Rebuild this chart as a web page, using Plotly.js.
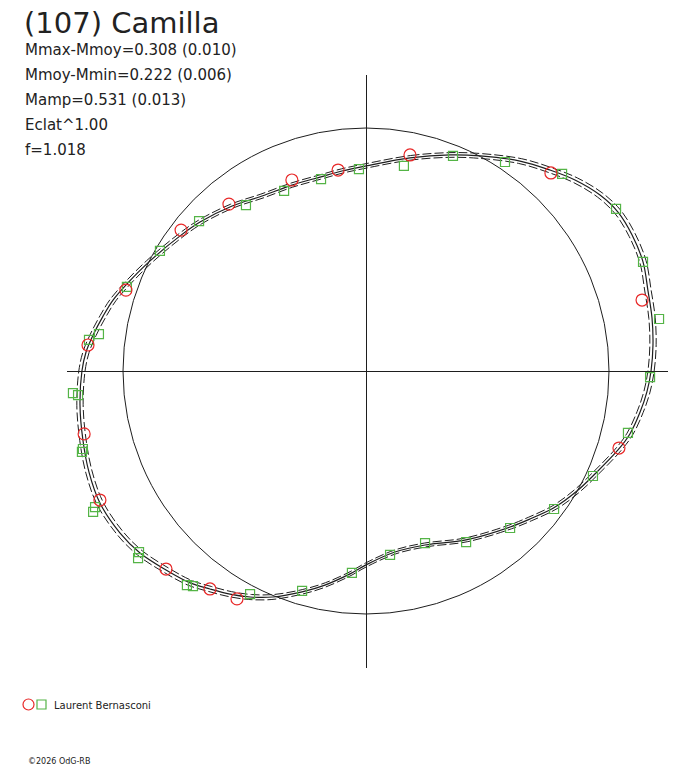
<!DOCTYPE html>
<html>
<head>
<meta charset="utf-8">
<script src="https://cdn.plot.ly/plotly-3.0.1.min.js"></script>
<style>html,body{margin:0;padding:0;background:#fff;}#chart{width:688px;height:768px;}</style>
</head>
<body>
<div id="chart"></div>
<script>
// ---- Data (units: radius of the mean-magnitude reference circle = 1) ----
var asteroidName = "(107) Camilla";
var infoLines = ["Mmax-Mmoy=0.308 (0.010)", "Mmoy-Mmin=0.222 (0.006)", "Mamp=0.531 (0.013)", "Eclat^1.00", "f=1.018"];
var observerName = "Laurent Bernasconi";
var copyrightText = "©2026 OdG-RB";
var meanRadius = 1;
var bandWidth = 0.011;

var curveX = [0, 0.181, 0.346, 0.469, 0.634, 0.757, 0.860, 0.963, 1.037, 1.095, 1.140, 1.160, 1.177, 1.181, 1.173, 1.156, 1.128, 1.086, 1.037, 0.942, 0.868, 0.778, 0.675, 0.593, 0.412, 0.243, 0.119, 0, -0.066, -0.169, -0.263, -0.383, -0.477, -0.560, -0.642, -0.724, -0.823, -0.930, -1.012, -1.095, -1.140, -1.165, -1.177, -1.169, -1.152, -1.123, -1.082, -1.041, -0.984, -0.893, -0.765, -0.683, -0.551, -0.428, -0.305, -0.189, -0.099, 0];
var curveY = [0.844, 0.877, 0.889, 0.885, 0.864, 0.827, 0.786, 0.724, 0.654, 0.560, 0.449, 0.333, 0.218, 0.107, 0, -0.086, -0.169, -0.259, -0.325, -0.424, -0.494, -0.560, -0.609, -0.642, -0.695, -0.716, -0.745, -0.798, -0.835, -0.881, -0.909, -0.930, -0.930, -0.918, -0.897, -0.872, -0.819, -0.749, -0.667, -0.543, -0.416, -0.284, -0.140, 0, 0.078, 0.148, 0.226, 0.292, 0.358, 0.449, 0.556, 0.613, 0.679, 0.720, 0.765, 0.798, 0.823, 0.844];

var redX = [0.181, 0.761, 1.136, 1.041, -0.531, -0.642, -0.823, -1.095, -1.160, -1.144, -0.988, -0.761, -0.564, -0.305, -0.115];
var redY = [0.889, 0.815, 0.292, -0.317, -0.938, -0.897, -0.815, -0.531, -0.259, 0.107, 0.333, 0.580, 0.687, 0.786, 0.827];

var greenX = [0.156, 0.358, 0.572, 0.807, 1.029, 1.140, 1.206, 1.169, 1.078, 0.934, 0.774, 0.593, 0.412, 0.243, 0.099, -0.058, -0.263, -0.477, -0.712, -0.737, -0.934, -0.938, -1.115, -1.123, -1.165, -1.169, -1.185, -1.206, -1.140, -1.099, -0.984, -0.848, -0.687, -0.494, -0.337, -0.185, -0.029];
var greenY = [0.844, 0.885, 0.860, 0.811, 0.667, 0.449, 0.214, -0.025, -0.255, -0.432, -0.568, -0.646, -0.704, -0.708, -0.757, -0.831, -0.905, -0.918, -0.885, -0.881, -0.745, -0.770, -0.560, -0.580, -0.321, -0.333, -0.099, -0.091, 0.128, 0.152, 0.346, 0.494, 0.617, 0.683, 0.741, 0.790, 0.831];

// ---- Layout helpers ----
var W = 688, H = 768;
var M = {l: 67, r: 20, t: 75, b: 100};
var pw = W - M.l - M.r, ph = H - M.t - M.b;
function px2x(px){ return (px - M.l) / pw; }
function py2y(py){ return (H - M.b - py) / ph; }

var ink = '#1e1e1e';
var redC = 'rgb(232,40,40)';
var greenC = 'rgb(84,180,70)';

function scaled(arr, k){ return arr.map(function(v){ return v * k; }); }

var traces = [
  {x: scaled(curveX, 1 + bandWidth), y: scaled(curveY, 1 + bandWidth), mode: 'lines', line: {color: ink, width: 1, dash: '9px,3px', shape: 'spline', smoothing: 1}, hoverinfo: 'skip'},
  {x: scaled(curveX, 1 - bandWidth), y: scaled(curveY, 1 - bandWidth), mode: 'lines', line: {color: ink, width: 1, dash: '9px,3px', shape: 'spline', smoothing: 1}, hoverinfo: 'skip'},
  {x: curveX, y: curveY, mode: 'lines', line: {color: ink, width: 1.2, shape: 'spline', smoothing: 1}, hoverinfo: 'skip'},
  {x: greenX, y: greenY, mode: 'markers', marker: {symbol: 'square-open', size: 9, color: greenC, line: {width: 1.2, color: greenC}}, hoverinfo: 'skip'},
  {x: redX, y: redY, mode: 'markers', marker: {symbol: 'circle-open', size: 12, color: redC, line: {width: 1.2, color: redC}}, hoverinfo: 'skip'}
];

var annotations = infoLines.map(function(t, i){
  return {text: t, xref: 'paper', yref: 'paper', x: px2x(23), y: py2y(50 + 25 * i), xanchor: 'left', yanchor: 'middle', showarrow: false, font: {family: 'DejaVu Sans', size: 15, color: '#222'}};
});
annotations.push({text: observerName, xref: 'paper', yref: 'paper', x: px2x(52), y: py2y(705), xanchor: 'left', yanchor: 'middle', showarrow: false, font: {family: 'DejaVu Sans', size: 10, color: '#222'}});
annotations.push({text: copyrightText, xref: 'paper', yref: 'paper', x: px2x(26), y: py2y(762), xanchor: 'left', yanchor: 'middle', showarrow: false, font: {family: 'DejaVu Sans', size: 8, color: '#222'}});

var shapes = [
  {type: 'circle', xref: 'x', yref: 'y', x0: -meanRadius, x1: meanRadius, y0: -meanRadius, y1: meanRadius, line: {color: ink, width: 1}, layer: 'below'},
  {type: 'circle', xref: 'paper', yref: 'paper', x0: px2x(23), x1: px2x(34), y0: py2y(710), y1: py2y(699), line: {color: redC, width: 1.2}},
  {type: 'rect', xref: 'paper', yref: 'paper', x0: px2x(37), x1: px2x(46), y0: py2y(709), y1: py2y(700), line: {color: greenC, width: 1.2}}
];

var axisCommon = {showgrid: false, zeroline: true, zerolinecolor: ink, zerolinewidth: 1, showticklabels: false, ticks: '', showline: false, fixedrange: true};

var layout = {
  width: W, height: H,
  margin: {l: M.l, r: M.r, t: M.t, b: M.b, pad: 0},
  paper_bgcolor: '#fff', plot_bgcolor: '#fff',
  showlegend: false,
  title: {text: asteroidName, x: 24 / W, xanchor: 'left', xref: 'container', y: 1 - 23 / H, yanchor: 'middle', yref: 'container', font: {family: 'DejaVu Sans', size: 29, color: '#222'}},
  xaxis: Object.assign({range: [-299 / 243, 302 / 243]}, axisCommon),
  yaxis: Object.assign({range: [-297 / 243, 296 / 243]}, axisCommon),
  annotations: annotations,
  shapes: shapes
};

Plotly.newPlot('chart', traces, layout, {staticPlot: true, displayModeBar: false});
</script>
</body>
</html>
